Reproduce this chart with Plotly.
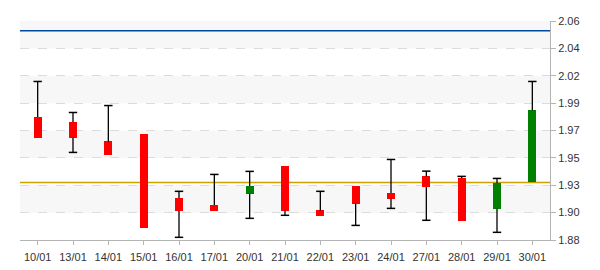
import plotly.graph_objects as go

dates = ["10/01", "13/01", "14/01", "15/01", "16/01", "17/01", "20/01", "21/01",
         "22/01", "23/01", "24/01", "27/01", "28/01", "29/01", "30/01"]
open_ = [1.981, 1.977, 1.961, 1.967, 1.9145, 1.9087, 1.918, 1.9407,
         1.9043, 1.9243, 1.9186, 1.9325, 1.9309, 1.9057, 1.9276]
close = [1.964, 1.964, 1.950, 1.890, 1.904, 1.904, 1.9243, 1.904,
         1.900, 1.9098, 1.9139, 1.9235, 1.8958, 1.9268, 1.9867]
high = [2.0103, 1.9848, 1.9905, 1.967, 1.920, 1.9339, 1.9364, 1.9407,
        1.920, 1.9243, 1.9462, 1.9366, 1.9323, 1.9306, 2.0103]
low = [1.964, 1.952, 1.950, 1.890, 1.8822, 1.904, 1.8978, 1.9003,
       1.900, 1.892, 1.906, 1.8962, 1.8958, 1.8863, 1.9276]
ref_high = 2.052
ref_prev = 1.9273
y_ticks = [1.88, 1.9025, 1.925, 1.9475, 1.97, 1.9925, 2.015, 2.0375, 2.06]
y_labels = ["1.88", "1.90", "1.93", "1.95", "1.97", "1.99", "2.02", "2.04", "2.06"]

RED = "#ff0000"
GREEN = "#008000"
xs = list(range(len(dates)))

fig = go.Figure()

# whiskers
wx, wy = [], []
for i in xs:
    top = max(open_[i], close[i])
    bot = min(open_[i], close[i])
    if high[i] > top + 1e-6:
        wx += [i, i, None]
        wy += [top, high[i], None]
    if low[i] < bot - 1e-6:
        wx += [i, i, None]
        wy += [bot, low[i], None]
fig.add_trace(go.Scatter(x=wx, y=wy, mode="lines", line=dict(color="black", width=1.3),
                         hoverinfo="skip", showlegend=False))
# caps
cx, cy = [], []
for i in xs:
    top = max(open_[i], close[i])
    bot = min(open_[i], close[i])
    if high[i] > top + 1e-6:
        cx.append(i); cy.append(high[i])
    if low[i] < bot - 1e-6:
        cx.append(i); cy.append(low[i])
fig.add_trace(go.Scatter(x=cx, y=cy, mode="markers",
                         marker=dict(symbol="line-ew", size=6, color="black",
                                     line=dict(color="black", width=1.5)),
                         hoverinfo="skip", showlegend=False))
# bodies
fig.add_trace(go.Bar(
    x=xs,
    base=[min(o, c) for o, c in zip(open_, close)],
    y=[max(abs(c - o), 0.0008) for o, c in zip(open_, close)],
    width=0.23,
    marker=dict(color=[GREEN if c > o else RED for o, c in zip(open_, close)], line=dict(width=0)),
    showlegend=False,
))

shapes = []
for a, b in [(y_ticks[8], y_ticks[7]), (y_ticks[6], y_ticks[5]), (y_ticks[4], y_ticks[3]), (y_ticks[2], y_ticks[1])]:
    shapes.append(dict(type="rect", xref="paper", yref="y", x0=0, x1=1, y0=b, y1=a,
                       fillcolor="#f7f7f7", line=dict(width=0), layer="below"))
shapes.append(dict(type="line", xref="paper", yref="y", x0=0, x1=1, y0=ref_high, y1=ref_high,
                   line=dict(color="#0047a0", width=1.5), layer="below"))
shapes.append(dict(type="line", xref="paper", yref="y", x0=0, x1=1, y0=ref_prev, y1=ref_prev,
                   line=dict(color="#cca000", width=1.5), layer="below"))

fig.update_layout(
    width=600, height=270,
    margin=dict(l=20, r=50, t=21, b=30),
    paper_bgcolor="white", plot_bgcolor="white",
    font=dict(family="Liberation Sans, Arial, sans-serif", size=11, color="#333333"),
    shapes=shapes,
    bargap=0,
    xaxis=dict(range=[-0.5, len(dates) - 0.5], tickvals=xs, ticktext=dates,
               showgrid=False, zeroline=False, showline=True, linecolor="#b4b4b4", linewidth=1,
               ticks="outside", ticklen=4, tickcolor="#b4b4b4", tickfont=dict(size=11, color="#333333"),
               ticklabelstandoff=3, automargin=False, fixedrange=True),
    yaxis=dict(range=[1.88, 2.06], side="right", tickvals=y_ticks, ticktext=y_labels,
               showgrid=True, gridcolor="#dcdcdc", griddash="dash", gridwidth=1,
               zeroline=False, showline=True, linecolor="#b4b4b4", linewidth=1,
               ticks="outside", ticklen=5, tickcolor="#b4b4b4", tickfont=dict(size=11, color="#333333"),
               automargin=False, fixedrange=True),
)

fig.write_html("out.html")
